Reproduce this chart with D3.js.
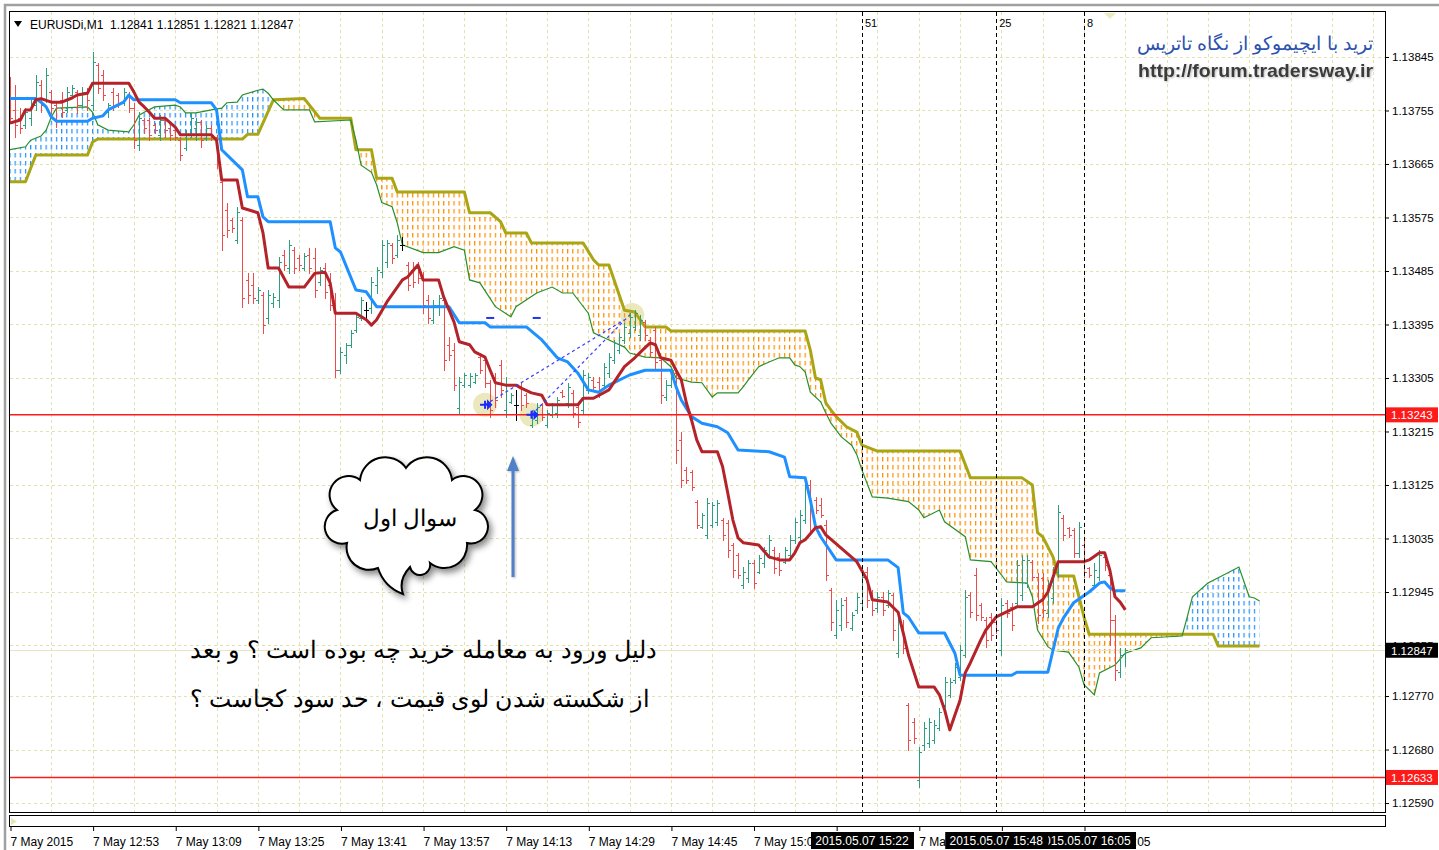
<!DOCTYPE html>
<html>
<head>
<meta charset="utf-8">
<title>EURUSDi,M1 Ichimoku</title>
<style>
  body { margin: 0; background: #fff; }
  svg text { font-family: "Liberation Sans", Arial, sans-serif; }
</style>
</head>
<body>
<svg id="canvas" width="1439" height="850"></svg>
<script src="https://cdn.jsdelivr.net/npm/d3@7/dist/d3.min.js"></script>
<script>
// ---- data (prices) ----
// one row per M1 bar from 7 May 12:37: [open, high, low, close]
let bars = [
  [1.13793,1.13811,1.13734,1.13742],[1.13756,1.13798,1.13710,1.13731],[1.13742,1.13759,1.13717,1.13726],[1.13731,1.13759,1.13726,1.13752],
  [1.13742,1.13773,1.13731,1.13764],[1.13764,1.13815,1.13756,1.13803],[1.13798,1.13806,1.13752,1.13764],[1.13773,1.13826,1.13769,1.13815],
  [1.13786,1.13789,1.13751,1.13759],[1.13764,1.13768,1.13727,1.13739],[1.13773,1.13786,1.13744,1.13752],[1.13756,1.13795,1.13752,1.13786],
  [1.13781,1.13798,1.13776,1.13793],[1.13786,1.13789,1.13751,1.13764],[1.13764,1.13795,1.13761,1.13786],[1.13786,1.13793,1.13756,1.13773],
  [1.13764,1.13853,1.13756,1.13837],[1.13832,1.13835,1.13784,1.13793],[1.13815,1.13823,1.13773,1.13781],[1.13752,1.13768,1.13744,1.13764],
  [1.13786,1.13793,1.13756,1.13764],[1.13781,1.13784,1.13761,1.13768],[1.13768,1.13793,1.13764,1.13786],[1.13781,1.13786,1.13752,1.13759],
  [1.13759,1.13768,1.13692,1.13705],[1.13697,1.13752,1.13689,1.13742],[1.13739,1.13742,1.13717,1.13726],[1.13739,1.13742,1.13705,1.13714],
  [1.13731,1.13734,1.13717,1.13722],[1.13714,1.13747,1.13705,1.13739],[1.13739,1.13744,1.13710,1.13722],[1.13726,1.13731,1.13705,1.13714],
  [1.13722,1.13726,1.13705,1.13710],[1.13705,1.13710,1.13672,1.13680],[1.13692,1.13722,1.13689,1.13714],[1.13714,1.13751,1.13710,1.13742],
  [1.13726,1.13742,1.13705,1.13736],[1.13736,1.13739,1.13694,1.13705],[1.13709,1.13731,1.13705,1.13726],[1.13726,1.13731,1.13705,1.13714],
  [1.13710,1.13714,1.13658,1.13668],[1.13635,1.13638,1.13520,1.13546],[1.13588,1.13599,1.13542,1.13554],[1.13571,1.13574,1.13551,1.13557],
  [1.13537,1.13593,1.13532,1.13584],[1.13571,1.13576,1.13425,1.13440],[1.13470,1.13482,1.13431,1.13445],[1.13461,1.13482,1.13431,1.13440],
  [1.13436,1.13458,1.13431,1.13453],[1.13445,1.13450,1.13381,1.13394],[1.13406,1.13453,1.13398,1.13445],[1.13431,1.13448,1.13425,1.13441],
  [1.13436,1.13509,1.13425,1.13500],[1.13512,1.13520,1.13487,1.13495],[1.13490,1.13537,1.13482,1.13529],[1.13520,1.13525,1.13482,1.13490],
  [1.13507,1.13512,1.13487,1.13495],[1.13490,1.13515,1.13487,1.13510],[1.13512,1.13524,1.13482,1.13490],[1.13507,1.13524,1.13441,1.13453],
  [1.13467,1.13492,1.13461,1.13487],[1.13490,1.13499,1.13440,1.13450],[1.13461,1.13482,1.13419,1.13428],[1.13436,1.13448,1.13307,1.13318],
  [1.13318,1.13357,1.13313,1.13349],[1.13344,1.13364,1.13330,1.13361],[1.13361,1.13386,1.13357,1.13381],[1.13386,1.13414,1.13382,1.13408],
  [1.13406,1.13441,1.13403,1.13436],[1.13419,1.13433,1.13406,1.13419],[1.13423,1.13475,1.13414,1.13467],[1.13461,1.13492,1.13448,1.13487],
  [1.13483,1.13537,1.13475,1.13529],[1.13500,1.13537,1.13492,1.13532],[1.13529,1.13532,1.13499,1.13507],[1.13512,1.13546,1.13509,1.13537],
  [1.13529,1.13542,1.13520,1.13529],[1.13495,1.13500,1.13453,1.13461],[1.13487,1.13500,1.13458,1.13467],[1.13490,1.13500,1.13465,1.13473],
  [1.13473,1.13483,1.13414,1.13428],[1.13436,1.13445,1.13398,1.13406],[1.13403,1.13436,1.13398,1.13428],[1.13428,1.13445,1.13411,1.13440],
  [1.13436,1.13441,1.13318,1.13335],[1.13361,1.13374,1.13335,1.13344],[1.13352,1.13364,1.13285,1.13293],[1.13255,1.13307,1.13246,1.13298],
  [1.13293,1.13313,1.13290,1.13310],[1.13293,1.13313,1.13290,1.13308],[1.13298,1.13313,1.13297,1.13310],[1.13340,1.13347,1.13313,1.13318],
  [1.13335,1.13340,1.13290,1.13297],[1.13297,1.13302,1.13240,1.13251],[1.13307,1.13313,1.13256,1.13268],[1.13327,1.13335,1.13273,1.13285],
  [1.13251,1.13307,1.13240,1.13293],[1.13265,1.13280,1.13263,1.13276],[1.13260,1.13285,1.13234,1.13260],[1.13290,1.13297,1.13251,1.13260],
  [1.13276,1.13280,1.13256,1.13263],[1.13226,1.13251,1.13223,1.13246],[1.13234,1.13263,1.13229,1.13256],[1.13260,1.13263,1.13234,1.13240],
  [1.13226,1.13251,1.13223,1.13246],[1.13243,1.13263,1.13240,1.13260],[1.13246,1.13273,1.13240,1.13268],[1.13281,1.13285,1.13273,1.13275],
  [1.13263,1.13297,1.13256,1.13290],[1.13280,1.13285,1.13240,1.13246],[1.13256,1.13263,1.13223,1.13231],[1.13251,1.13318,1.13246,1.13310],
  [1.13285,1.13313,1.13280,1.13307],[1.13302,1.13307,1.13285,1.13290],[1.13298,1.13307,1.13273,1.13280],[1.13293,1.13330,1.13290,1.13324],
  [1.13313,1.13347,1.13307,1.13340],[1.13335,1.13369,1.13330,1.13364],[1.13352,1.13381,1.13347,1.13374],[1.13369,1.13398,1.13364,1.13391],
  [1.13381,1.13414,1.13374,1.13408],[1.13391,1.13419,1.13386,1.13414],[1.13377,1.13411,1.13369,1.13403],[1.13399,1.13403,1.13369,1.13377],
  [1.13369,1.13374,1.13340,1.13349],[1.13386,1.13391,1.13318,1.13332],[1.13335,1.13340,1.13263,1.13276],[1.13273,1.13302,1.13268,1.13293],
  [1.13293,1.13324,1.13290,1.13318],[1.13313,1.13318,1.13162,1.13184],[1.13201,1.13214,1.13122,1.13134],[1.13150,1.13155,1.13129,1.13134],
  [1.13147,1.13150,1.13117,1.13122],[1.13097,1.13100,1.13053,1.13058],[1.13054,1.13078,1.13053,1.13075],[1.13041,1.13103,1.13036,1.13094],
  [1.13058,1.13097,1.13054,1.13092],[1.13063,1.13100,1.13058,1.13094],[1.13066,1.13070,1.13033,1.13041],[1.13061,1.13066,1.13004,1.13016],
  [1.13024,1.13028,1.12970,1.12982],[1.13007,1.13011,1.12969,1.12974],[1.12957,1.12987,1.12952,1.12979],[1.12969,1.12999,1.12962,1.12994],
  [1.12994,1.12999,1.12952,1.12960],[1.12979,1.13007,1.12977,1.13002],[1.12994,1.13021,1.12987,1.13016],[1.13007,1.13041,1.13002,1.13033],
  [1.13016,1.13021,1.12977,1.12985],[1.13004,1.13011,1.12974,1.12982],[1.12996,1.13021,1.12994,1.13016],[1.13007,1.13041,1.13004,1.13033],
  [1.13033,1.13070,1.13028,1.13063],[1.13038,1.13083,1.13033,1.13075],[1.13066,1.13134,1.13061,1.13122],[1.13125,1.13134,1.13044,1.13083],
  [1.13100,1.13105,1.13078,1.13083],[1.13092,1.13103,1.13071,1.13075],[1.13058,1.13066,1.12965,1.12974],[1.12948,1.12952,1.12881,1.12894],
  [1.12873,1.12932,1.12867,1.12915],[1.12889,1.12935,1.12881,1.12923],[1.12932,1.12937,1.12886,1.12894],[1.12884,1.12911,1.12881,1.12906],
  [1.12915,1.12943,1.12910,1.12937],[1.12927,1.12979,1.12920,1.12970],[1.12979,1.12987,1.12920,1.12932],[1.12940,1.12948,1.12906,1.12915],
  [1.12918,1.12945,1.12911,1.12937],[1.12937,1.12945,1.12906,1.12915],[1.12923,1.12948,1.12920,1.12943],[1.12940,1.12943,1.12864,1.12881],
  [1.12842,1.12903,1.12836,1.12894],[1.12889,1.12898,1.12842,1.12851],[1.12755,1.12758,1.12679,1.12696],[1.12726,1.12733,1.12691,1.12700],
  [1.12629,1.12684,1.12617,1.12676],[1.12688,1.12726,1.12679,1.12716],[1.12691,1.12733,1.12684,1.12726],[1.12696,1.12730,1.12691,1.12721],
  [1.12716,1.12750,1.12713,1.12743],[1.12755,1.12802,1.12752,1.12794],[1.12772,1.12800,1.12769,1.12794],[1.12797,1.12826,1.12792,1.12819],
  [1.12802,1.12856,1.12797,1.12847],[1.12839,1.12948,1.12836,1.12937],[1.12940,1.12945,1.12903,1.12911],[1.12974,1.12985,1.12898,1.12906],
  [1.12923,1.12927,1.12898,1.12903],[1.12898,1.12903,1.12853,1.12864],[1.12903,1.12910,1.12864,1.12873],[1.12894,1.12898,1.12876,1.12881],
  [1.12847,1.12935,1.12839,1.12923],[1.12927,1.12932,1.12903,1.12910],[1.12920,1.12927,1.12881,1.12889],[1.12927,1.12999,1.12920,1.12991],
  [1.12940,1.13007,1.12932,1.12999],[1.12960,1.13007,1.12954,1.12999],[1.12996,1.12999,1.12965,1.12970],[1.12970,1.12977,1.12893,1.12906],
  [1.12969,1.12977,1.12903,1.12915],[1.12910,1.12965,1.12903,1.12957],[1.12935,1.12987,1.12927,1.12979],[1.12979,1.13092,1.12970,1.13080],
  [1.13070,1.13075,1.13033,1.13041],[1.13053,1.13054,1.13038,1.13041],[1.13049,1.13053,1.13004,1.13011],[1.13011,1.13063,1.13004,1.13054],
  [1.13024,1.13033,1.12970,1.12979],[1.12985,1.12987,1.12970,1.12974],[1.12957,1.12994,1.12954,1.12982],[1.12970,1.13016,1.12965,1.13007],
  [1.13004,1.13011,1.12982,1.12991],[1.12974,1.12982,1.12856,1.12898],[1.12898,1.12906,1.12797,1.12814],[1.12810,1.12851,1.12802,1.12839],
  [1.12841,1.12851,1.12821,1.12847]
];

// Ichimoku lines as [bar, price] vertices
let tenkan = [[0,1.13734],[2,1.13739],[3,1.13756],[4,1.13756],[5,1.13773],[6,1.13775],[8,1.13769],[10,1.13769],[12,1.13776],[13,1.13781],[15,1.13784],[16,1.13801],[23,1.13801],[24,1.13786],[25,1.13769],[26,1.13761],[27,1.13752],[28,1.13742],[30,1.13742],[32,1.13727],[33,1.13714],[39,1.13714],[40,1.13705],[41,1.13638],[44,1.13638],[45,1.13591],[48,1.13583],[49,1.13549],[50,1.13490],[52,1.13490],[54,1.13458],[57,1.13458],[59,1.13481],[61,1.13483],[62,1.13465],[63,1.13414],[67,1.13414],[69,1.13403],[70,1.13394],[71,1.13403],[73,1.13433],[76,1.13470],[77,1.13475],[79,1.13495],[80,1.13470],[83,1.13470],[84,1.13441],[86,1.13399],[87,1.13366],[89,1.13361],[90,1.13349],[92,1.13340],[93,1.13318],[94,1.13297],[96,1.13293],[98,1.13293],[99,1.13288],[101,1.13280],[103,1.13276],[104,1.13260],[110,1.13260],[111,1.13271],[113,1.13271],[116,1.13285],[117,1.13298],[119,1.13324],[121,1.13339],[123,1.13356],[124,1.13364],[125,1.13361],[126,1.13339],[128,1.13335],[129,1.13318],[130,1.13302],[131,1.13263],[132,1.13234],[133,1.13201],[134,1.13181],[137,1.13181],[138,1.13156],[139,1.13112],[140,1.13066],[141,1.13036],[142,1.13028],[145,1.13024],[147,1.13004],[149,1.12999],[151,1.12999],[152,1.13011],[153,1.13028],[154,1.13033],[156,1.13053],[157,1.13055],[158,1.13041],[164,1.12996],[166,1.12965],[167,1.12932],[170,1.12928],[172,1.12911],[173,1.12876],[174,1.12839],[176,1.12785],[179,1.12785],[180,1.12772],[181,1.12747],[182,1.12713],[183,1.12738],[184,1.12763],[185,1.12809],[186,1.12826],[188,1.12864],[189,1.12881],[191,1.12903],[195,1.12920],[198,1.12920],[200,1.12932],[201,1.12945],[202,1.12970],[203,1.12996],[208,1.12996],[209,1.12999],[211,1.13011],[212,1.13011],[213,1.12982],[214,1.12937],[215,1.12928],[216,1.12915]];

let kijun = [[0,1.13775],[5,1.13775],[6,1.13769],[7,1.13761],[8,1.13744],[9,1.13737],[15,1.13737],[16,1.13742],[18,1.13746],[19,1.13756],[22,1.13769],[23,1.13781],[24,1.13773],[32,1.13773],[33,1.13768],[39,1.13768],[40,1.13756],[41,1.13689],[43,1.13672],[45,1.13655],[46,1.13610],[48,1.13610],[49,1.13576],[50,1.13568],[62,1.13568],[63,1.13524],[64,1.13517],[67,1.13453],[69,1.13450],[71,1.13425],[85,1.13425],[87,1.13398],[92,1.13398],[93,1.13391],[100,1.13391],[103,1.13369],[106,1.13339],[108,1.13332],[110,1.13313],[112,1.13285],[114,1.13281],[116,1.13293],[120,1.13310],[123,1.13318],[128,1.13318],[129,1.13290],[130,1.13268],[132,1.13240],[134,1.13229],[137,1.13223],[139,1.13213],[141,1.13184],[147,1.13181],[150,1.13172],[151,1.13139],[154,1.13137],[155,1.13100],[156,1.13055],[157,1.13038],[160,1.12999],[170,1.12999],[172,1.12986],[173,1.12910],[174,1.12903],[176,1.12876],[181,1.12876],[183,1.12842],[184,1.12805],[194,1.12805],[195,1.12810],[201,1.12810],[203,1.12884],[204,1.12901],[206,1.12927],[209,1.12945],[211,1.12960],[212,1.12962],[213,1.12952],[214,1.12947],[216,1.12947]];

let spanA = [[0,1.13689],[3,1.13694],[4,1.13705],[6,1.13712],[7,1.13722],[8,1.13744],[9,1.13759],[15,1.13761],[16,1.13752],[17,1.13731],[19,1.13722],[23,1.13719],[24,1.13731],[25,1.13747],[26,1.13752],[28,1.13761],[32,1.13764],[33,1.13761],[34,1.13751],[36,1.13751],[39,1.13756],[41,1.13759],[42,1.13768],[44,1.13769],[45,1.13781],[48,1.13789],[49,1.13791],[50,1.13784],[51,1.13773],[53,1.13756],[58,1.13756],[59,1.13736],[66,1.13739],[67,1.13705],[68,1.13663],[70,1.13651],[71,1.13630],[72,1.13600],[74,1.13593],[75,1.13566],[76,1.13529],[80,1.13516],[83,1.13516],[86,1.13526],[88,1.13520],[89,1.13470],[91,1.13465],[94,1.13425],[97,1.13408],[98,1.13425],[102,1.13448],[105,1.13458],[107,1.13448],[109,1.13448],[112,1.13414],[113,1.13381],[116,1.13369],[119,1.13357],[120,1.13347],[123,1.13340],[126,1.13339],[128,1.13324],[129,1.13305],[132,1.13298],[134,1.13297],[136,1.13273],[137,1.13280],[141,1.13280],[142,1.13290],[143,1.13302],[145,1.13324],[147,1.13332],[149,1.13339],[151,1.13339],[152,1.13327],[153,1.13324],[154,1.13315],[155,1.13281],[157,1.13265],[158,1.13246],[159,1.13229],[161,1.13206],[163,1.13192],[164,1.13176],[165,1.13150],[167,1.13105],[170,1.13103],[174,1.13097],[176,1.13083],[177,1.13070],[180,1.13083],[181,1.13063],[185,1.13038],[186,1.12999],[190,1.12996],[192,1.12974],[193,1.12962],[197,1.12960],[198,1.12937],[199,1.12881],[201,1.12853],[202,1.12847],[205,1.12844],[207,1.12819],[208,1.12789],[210,1.12772],[211,1.12809],[214,1.12822],[216,1.12842],[219,1.12851],[221,1.12868],[227,1.12871],[228,1.12903],[229,1.12937],[232,1.12960],[234,1.12969],[238,1.12987],[240,1.12937],[241,1.12935],[242,1.12930]];

let spanB = [[0,1.13635],[3,1.13635],[5,1.13680],[15,1.13680],[16,1.13702],[17,1.13707],[45,1.13707],[46,1.13715],[48,1.13715],[51,1.13773],[57,1.13775],[60,1.13742],[66,1.13742],[67,1.13689],[70,1.13689],[71,1.13641],[74,1.13641],[75,1.13618],[88,1.13618],[89,1.13583],[93,1.13583],[95,1.13568],[96,1.13549],[100,1.13549],[101,1.13532],[111,1.13532],[113,1.13504],[114,1.13495],[116,1.13495],[119,1.13419],[121,1.13416],[123,1.13391],[127,1.13391],[128,1.13384],[154,1.13384],[155,1.13352],[156,1.13305],[157,1.13302],[158,1.13263],[159,1.13251],[160,1.13240],[162,1.13223],[164,1.13214],[165,1.13192],[168,1.13182],[184,1.13182],[186,1.13137],[196,1.13137],[198,1.13125],[199,1.13045],[200,1.13038],[202,1.13004],[203,1.12972],[206,1.12972],[208,1.12903],[209,1.12874],[233,1.12874],[234,1.12854],[242,1.12854]];

let priceTicks = [1.13845,1.13755,1.13665,1.13575,1.13485,1.13395,1.13305,1.13215,1.13125,1.13035,1.12945,1.12855,1.12770,1.12680,1.12590];
let timeTicks = [0,16,32,48,64,80,96,112,128,144,160,176,192,208];
let timeLabels = ["7 May 2015","7 May 12:53","7 May 13:09","7 May 13:25","7 May 13:41","7 May 13:57","7 May 14:13","7 May 14:29","7 May 14:45","7 May 15:01","7 May 15:17","7 May 15:33","7 May 15:49","7 May 16:05"];
let levels = [1.13243, 1.12633];
let lastPrice = 1.12847;
let header = "EURUSDi,M1  1.12841 1.12851 1.12821 1.12847";
// vertical line objects: bar, top tag, bottom date (drawn in this order)
let vlines = [
  { bar: 165, tag: "51", date: "2015.05.07 15:22" },
  { bar: 208, tag: "8",  date: "2015.05.07 16:05" },
  { bar: 191, tag: "25", date: "2015.05.07 15:48" }
];
let entries = [[92, 1.13260], [101, 1.13243]];
let highlight = [[92, 1.13260], [101, 1.13243], [120.5, 1.13411]];
let dashes = [[93, 1.13406], [102, 1.13406]];
let tradeLines = [[[92, 1.13260], [119, 1.13403]], [[101, 1.13243], [120, 1.13411]]];

// ---- layout ----
const svg = d3.select("#canvas");
const W = 1439, H = 850;
const L = 10, R = 1385, T = 12, B = 812;
const up = "#2c9f7c", down = "#ee4c4c";

const x = d3.scaleLinear().domain([0, 208]).range([10, 1084]);
const y = d3.scaleLinear().domain([1.125749, 1.139207]).range([812, 12]);

const defs = svg.append("defs");
defs.append("clipPath").attr("id", "plot")
  .append("rect").attr("x", L).attr("y", T).attr("width", R - L).attr("height", B - T);

function hatch(id, color) {
  let p = defs.append("pattern").attr("id", id)
    .attr("patternUnits", "userSpaceOnUse")
    .attr("width", x(1) - x(0)).attr("height", 8)
    .attr("x", x(0) - 0.6).attr("y", 1);
  p.append("rect").attr("width", 1.2).attr("height", 4.5).attr("fill", color);
}
hatch("hatchOrange", "#ff8c00");
hatch("hatchBlue", "#1e90ff");

let shadow = defs.append("filter").attr("id", "shadow")
  .attr("x", "-20%").attr("y", "-20%").attr("width", "140%").attr("height", "150%");
shadow.append("feDropShadow").attr("dx", 3).attr("dy", 4).attr("stdDeviation", 3)
  .attr("flood-color", "#000").attr("flood-opacity", 0.45);
let soft = defs.append("filter").attr("id", "soft")
  .attr("x", "-50%").attr("y", "-20%").attr("width", "200%").attr("height", "140%");
soft.append("feDropShadow").attr("dx", 1).attr("dy", 1).attr("stdDeviation", 1)
  .attr("flood-color", "#888").attr("flood-opacity", 0.6);

// window frame
svg.append("rect").attr("x", 5).attr("y", 5).attr("width", 1440).attr("height", 850)
  .attr("fill", "none").attr("stroke", "#a0a0a0").attr("stroke-width", 2.5);

let plot = svg.append("g").attr("clip-path", "url(#plot)");

// grid
const gridColor = "#e3e2ae";
plot.append("g").selectAll("line").data(priceTicks).join("line")
  .attr("x1", L).attr("x2", R)
  .attr("y1", d => Math.round(y(d)) + 0.5).attr("y2", d => Math.round(y(d)) + 0.5)
  .attr("stroke", gridColor).attr("stroke-dasharray", "3,3");
plot.append("g").selectAll("line").data(d3.range(8, 270, 8)).join("line")
  .attr("x1", d => Math.round(x(d)) + 0.5).attr("x2", d => Math.round(x(d)) + 0.5)
  .attr("y1", T).attr("y2", B)
  .attr("stroke", gridColor).attr("stroke-dasharray", "3,3");

// highlight circles
plot.append("g").selectAll("circle").data(highlight).join("circle")
  .attr("cx", d => x(d[0])).attr("cy", d => y(d[1])).attr("r", 12)
  .attr("fill", "#e6e4b0").attr("opacity", 0.85);

// kumo
const line = d3.line().x(d => x(d[0])).y(d => y(d[1]));
const band = line(spanA) + "L" + line(spanB.slice().reverse()).slice(1) + "Z";
const aLine = line(spanA);
defs.append("clipPath").attr("id", "aboveA").append("path")
  .attr("d", aLine + `L${x(242)},0L${x(0)},0Z`);
defs.append("clipPath").attr("id", "belowA").append("path")
  .attr("d", aLine + `L${x(242)},${H}L${x(0)},${H}Z`);
plot.append("g").attr("clip-path", "url(#aboveA)")
  .append("path").attr("d", band).attr("fill", "url(#hatchOrange)");
plot.append("g").attr("clip-path", "url(#belowA)")
  .append("path").attr("d", band).attr("fill", "url(#hatchBlue)");

plot.append("path").attr("d", line(spanB)).attr("fill", "none")
  .attr("stroke", "#aaa514").attr("stroke-width", 3).attr("stroke-linejoin", "round");
plot.append("path").attr("d", line(spanA)).attr("fill", "none")
  .attr("stroke", "#2a8f2a").attr("stroke-width", 1.2);

// last price line
plot.append("line").attr("x1", L).attr("x2", R)
  .attr("y1", Math.round(y(lastPrice)) + 0.5).attr("y2", Math.round(y(lastPrice)) + 0.5)
  .attr("stroke", "#e8e6c0").attr("stroke-width", 1);

// OHLC bars
const px = i => Math.round(x(i)) + 0.5;
const py = p => Math.round(y(p)) + 0.5;
plot.append("g").selectAll("path").data(bars).join("path")
  .attr("d", (d, i) => {
    let X = px(i);
    return `M${X},${py(d[1]) - 0.5}V${py(d[2]) + 0.5}M${X - 2.5},${py(d[0])}H${X}M${X},${py(d[3])}H${X + 2.5}`;
  })
  .attr("fill", "none")
  .attr("stroke", d => d[3] > d[0] ? up : d[3] < d[0] ? down : "#000")
  .attr("stroke-width", 1);

// kijun, tenkan
plot.append("path").attr("d", line(kijun)).attr("fill", "none")
  .attr("stroke", "#1e90ff").attr("stroke-width", 3).attr("stroke-linejoin", "round");
plot.append("path").attr("d", line(tenkan)).attr("fill", "none")
  .attr("stroke", "#b4232a").attr("stroke-width", 3).attr("stroke-linejoin", "round");

// horizontal levels
plot.append("g").selectAll("line").data(levels).join("line")
  .attr("x1", L).attr("x2", R)
  .attr("y1", d => y(d)).attr("y2", d => y(d))
  .attr("stroke", "#ff1a1a").attr("stroke-width", 1.5);

// trade objects
plot.append("g").selectAll("path").data(tradeLines).join("path")
  .attr("d", d => line(d)).attr("fill", "none")
  .attr("stroke", "#3340ff").attr("stroke-width", 1.2).attr("stroke-dasharray", "3,3");
plot.append("g").selectAll("line").data(dashes).join("line")
  .attr("x1", d => x(d[0]) - 4).attr("x2", d => x(d[0]) + 4)
  .attr("y1", d => y(d[1])).attr("y2", d => y(d[1]))
  .attr("stroke", "#2233ee").attr("stroke-width", 2);
plot.append("g").selectAll("path").data(entries).join("path")
  .attr("transform", d => `translate(${x(d[0])},${y(d[1])})`)
  .attr("d", "M-5,0H3M0,-4V4M3,-3L6,0L3,3Z")
  .attr("fill", "#1a2bff").attr("stroke", "#1a2bff").attr("stroke-width", 2);

// vertical line objects
plot.append("g").selectAll("line").data(vlines).join("line")
  .attr("x1", d => px(d.bar)).attr("x2", d => px(d.bar))
  .attr("y1", T).attr("y2", B)
  .attr("stroke", "#000").attr("stroke-dasharray", "4,3");
plot.append("g").selectAll("text").data(vlines).join("text")
  .attr("x", d => x(d.bar) + 3).attr("y", 27)
  .attr("font-size", 11).attr("fill", "#000").text(d => d.tag);

// chart border and lower pane
svg.append("rect").attr("x", L - 0.5).attr("y", T - 0.5).attr("width", R - L + 1).attr("height", B - T + 1)
  .attr("fill", "none").attr("stroke", "#000");
svg.append("rect").attr("x", L - 0.5).attr("y", 815.5).attr("width", R - L + 1).attr("height", 11)
  .attr("fill", "#fff").attr("stroke", "#000");
svg.append("path").attr("d", `M${L + 1},818L${L + 7},821.5L${L + 1},825Z`).attr("fill", "#e6e6b0");
svg.append("path").attr("d", "M1104,13H1116L1110,19Z").attr("fill", "#ecebbd");

// header
svg.append("path").attr("d", "M14,21H22L18,27Z").attr("fill", "#000");
svg.append("text").attr("x", 30).attr("y", 29).attr("font-size", 12).attr("fill", "#000")
  .attr("xml:space", "preserve").text(header);

// price axis
let yAxis = svg.append("g").attr("transform", `translate(${R},0)`)
  .call(d3.axisRight(y).tickValues(priceTicks).tickFormat(d3.format(".5f")).tickSize(4).tickPadding(3));
yAxis.select(".domain").remove();
yAxis.selectAll("text").attr("font-size", 11.5).attr("font-family", "Liberation Sans, Arial, sans-serif").attr("fill", "#000");

// price labels
function priceBox(p, bg) {
  let g = svg.append("g").attr("transform", `translate(1386,${y(p)})`);
  g.append("rect").attr("x", 0).attr("y", -7.5).attr("width", 52).attr("height", 15).attr("fill", bg);
  g.append("text").attr("x", 5).attr("y", 4.5).attr("font-size", 11.5).attr("fill", "#fff").text(d3.format(".5f")(p));
}
levels.forEach(p => priceBox(p, "#ff1a1a"));
priceBox(lastPrice, "#000");

// time axis
let xAxis = svg.append("g").attr("transform", "translate(0,826)")
  .call(d3.axisBottom(x).tickValues(timeTicks).tickFormat((d, i) => timeLabels[i]).tickSize(5).tickPadding(4));
xAxis.select(".domain").remove();
xAxis.selectAll("text").attr("text-anchor", "start").attr("font-size", 12)
  .attr("font-family", "Liberation Sans, Arial, sans-serif").attr("fill", "#000").attr("dy", "0.9em");
xAxis.selectAll("line").attr("transform", "translate(0.5,0)");

// date boxes of the vertical lines
let dateBox = svg.append("g").selectAll("g").data(vlines).join("g")
  .attr("transform", d => `translate(${x(d.bar)},840)`);
dateBox.append("rect").attr("x", -51).attr("y", -8).attr("width", 103).attr("height", 17).attr("fill", "#000");
dateBox.append("text").attr("text-anchor", "middle").attr("y", 4.5).attr("font-size", 12)
  .attr("fill", "#fff").text(d => d.date);

// watermark
svg.append("text").attr("x", 1373).attr("y", 50).attr("text-anchor", "end")
  .attr("font-family", "DejaVu Sans").attr("font-size", 19).attr("fill", "#2c52ad")
  .text("ترید با ایچیموکو از نگاه تاتریس");
svg.append("text").attr("x", 1373).attr("y", 77).attr("text-anchor", "end")
  .attr("font-size", 19).attr("font-weight", "bold").attr("fill", "#3a3a3a")
  .attr("filter", "url(#soft)")
  .attr("textLength", 235).attr("lengthAdjust", "spacingAndGlyphs")
  .text("http://forum.tradersway.ir");

// speech bubble
const bubble = "M347,543 A16.7,16.7 0 0 1 337,510 A18.5,18.5 0 0 1 360,480 A25.4,25.4 0 0 1 406,468 " +
  "A25.4,25.4 0 0 1 452,480 A18.5,18.5 0 0 1 475,510 A16.7,16.7 0 0 1 467,543 A22.8,22.8 0 0 1 430,563 " +
  "A10.2,10.2 0 0 1 410,567 Q398,580 403,594 Q384,587 378,568 A22.5,22.5 0 0 1 347,543 Z";
svg.append("path").attr("d", bubble).attr("fill", "#fff").attr("stroke", "#000")
  .attr("stroke-width", 2).attr("filter", "url(#shadow)");
svg.append("text").attr("x", 410).attr("y", 526).attr("text-anchor", "middle")
  .attr("font-family", "DejaVu Sans").attr("font-size", 22.5).attr("fill", "#000")
  .text("سوال اول");

// arrow
svg.append("path")
  .attr("d", "M511.5,577V471H507L513,456L519,471H514.5V577Z")
  .attr("fill", "#4f80c8").attr("filter", "url(#soft)");

// question text
svg.append("text").attr("x", 657).attr("y", 658).attr("text-anchor", "end")
  .attr("font-family", "DejaVu Sans").attr("font-size", 23.5).attr("fill", "#000")
  .attr("textLength", 467).attr("lengthAdjust", "spacingAndGlyphs")
  .text("دلیل ورود به معامله خرید چه بوده است ؟ و بعد");
svg.append("text").attr("x", 650).attr("y", 707).attr("text-anchor", "end")
  .attr("font-family", "DejaVu Sans").attr("font-size", 23.5).attr("fill", "#000")
  .attr("textLength", 460).attr("lengthAdjust", "spacingAndGlyphs")
  .text("از شکسته شدن لوی قیمت ، حد سود کجاست ؟");
</script>
</body>
</html>
